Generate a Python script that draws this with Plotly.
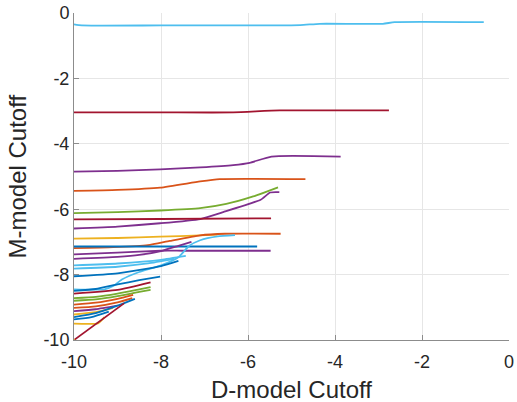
import plotly.graph_objects as go

BLUE = "#0072BD"; ORANGE = "#D95319"; YELLOW = "#EDB120"; PURPLE = "#7E2F8E"
GREEN = "#77AC30"; LBLUE = "#4DBEEE"; DRED = "#A2142F"

# Each series: (color, x values, y values)
s01_x = [-10, -9.82, -8, -6, -4.8, -4.35, -2.9, -2.63, -0.58]
s01_y = [-0.35, -0.38, -0.38, -0.38, -0.37, -0.33, -0.33, -0.28, -0.28]
s02_x = [-10, -8, -6.34, -5.27, -2.76]
s02_y = [-3.04, -3.04, -3.04, -2.98, -2.98]
s03_x = [-10, -9, -8.02, -7.1, -6.34, -5.96, -5.46, -3.87]
s03_y = [-4.85, -4.83, -4.78, -4.72, -4.65, -4.58, -4.39, -4.39]
s04_x = [-10, -9, -8.02, -7.1, -6.65, -4.68]
s04_y = [-5.44, -5.41, -5.34, -5.15, -5.08, -5.08]
s05_x = [-10, -9, -8.02, -7.1, -6.5, -5.88, -5.31]
s05_y = [-6.12, -6.09, -6.04, -5.97, -5.84, -5.61, -5.33]
s06_x = [-10, -9, -8.02, -7.1, -6.57, -5.71, -5.49, -5.28]
s06_y = [-6.59, -6.53, -6.43, -6.3, -6.09, -5.71, -5.49, -5.48]
s07_x = [-10, -8, -5.47]
s07_y = [-6.31, -6.3, -6.28]
s08_x = [-10, -9, -8.02, -7.1, -6.7]
s08_y = [-6.9, -6.88, -6.84, -6.8, -6.78]
s09_x = [-10, -9.1, -8.3, -7.8, -7.1, -6.53, -5.25]
s09_y = [-7.19, -7.16, -7.1, -6.97, -6.8, -6.75, -6.75]
s10_x = [-10, -8, -5.79]
s10_y = [-7.14, -7.14, -7.14]
s11_x = [-10, -9, -8, -7.5, -5.48]
s11_y = [-7.38, -7.33, -7.27, -7.27, -7.27]
s12_x = [-10, -9, -8.5, -8, -7.6, -7.3]
s12_y = [-7.52, -7.46, -7.4, -7.28, -7.12, -7.0]
s13_x = [-10, -9, -8, -7.43]
s13_y = [-7.72, -7.66, -7.55, -7.43]
s14_x = [-10, -9, -8.3, -7.7]
s14_y = [-7.82, -7.76, -7.66, -7.52]
s15_x = [-10, -9.3, -9.1, -8.9, -8.5, -8.0, -7.6, -7.35, -7.1, -6.7, -6.3]
s15_y = [-8.45, -8.45, -8.35, -8.15, -7.92, -7.72, -7.47, -7.12, -6.95, -6.83, -6.79]
s16_x = [-10, -9, -8, -7.6]
s16_y = [-8.05, -7.96, -7.74, -7.58]
s17_x = [-10, -9.5, -9, -8.5, -8.02]
s17_y = [-8.5, -8.44, -8.3, -8.17, -8.06]
s18_x = [-10, -9, -8.24]
s18_y = [-8.58, -8.47, -8.24]
s19_x = [-10, -9.5, -9, -8.5, -8.24]
s19_y = [-8.72, -8.68, -8.58, -8.45, -8.38]
s20_x = [-10, -9.5, -9, -8.5, -8.24]
s20_y = [-8.8, -8.76, -8.66, -8.53, -8.47]
s21_x = [-10, -9.5, -9, -8.64]
s21_y = [-8.92, -8.86, -8.74, -8.62]
s22_x = [-10, -9.5, -9, -8.66]
s22_y = [-9.02, -8.97, -8.85, -8.72]
s23_x = [-10, -9.5, -9.0]
s23_y = [-9.12, -9.06, -8.95]
s24_x = [-10, -9.5, -9.1]
s24_y = [-9.22, -9.15, -9.02]
s25_x = [-10, -9.5, -9.0, -8.6]
s25_y = [-9.3, -9.18, -8.95, -8.74]
s26_x = [-10, -9.6, -9.2]
s26_y = [-9.37, -9.3, -9.13]
s27_x = [-10, -9.45, -9.3]
s27_y = [-9.5, -9.49, -9.3]
s28_x = [-10, -8.85]
s28_y = [-10, -8.88]
s29_x = [-10, -9.98]
s29_y = [-10, -9.98]

series = [
    (LBLUE, s01_x, s01_y), (DRED, s02_x, s02_y), (PURPLE, s03_x, s03_y),
    (ORANGE, s04_x, s04_y), (GREEN, s05_x, s05_y), (PURPLE, s06_x, s06_y),
    (DRED, s07_x, s07_y), (YELLOW, s08_x, s08_y), (ORANGE, s09_x, s09_y),
    (BLUE, s10_x, s10_y), (PURPLE, s11_x, s11_y), (PURPLE, s12_x, s12_y),
    (LBLUE, s13_x, s13_y), (LBLUE, s14_x, s14_y), (LBLUE, s15_x, s15_y),
    (BLUE, s16_x, s16_y), (BLUE, s17_x, s17_y), (DRED, s18_x, s18_y),
    (GREEN, s19_x, s19_y), (GREEN, s20_x, s20_y), (ORANGE, s21_x, s21_y),
    (ORANGE, s22_x, s22_y), (PURPLE, s23_x, s23_y), (YELLOW, s24_x, s24_y),
    (BLUE, s25_x, s25_y), (BLUE, s26_x, s26_y), (YELLOW, s27_x, s27_y),
    (DRED, s28_x, s28_y), (YELLOW, s29_x, s29_y),
]

x_ticks = [-10, -8, -6, -4, -2, 0]
y_ticks = [-10, -8, -6, -4, -2, 0]
x_title = "D-model Cutoff"
y_title = "M-model Cutoff"

fig = go.Figure()
for color, xs, ys in series:
    fig.add_trace(go.Scatter(x=xs, y=ys, mode="lines",
                             line=dict(color=color, width=1.8, shape="spline", smoothing=0.5),
                             showlegend=False, hoverinfo="skip"))

FONT = "Liberation Sans, Arial"
axis_common = dict(
    showgrid=True, gridcolor="#e6e6e6", gridwidth=1,
    zeroline=False, showline=True, linecolor="#8c8c8c", linewidth=1,
    ticks="inside", ticklen=5, tickcolor="#8c8c8c",
    tickfont=dict(family=FONT, size=18, color="#262626"),
    range=[-10, 0], mirror=False, automargin=False,
    ticklabeloverflow="allow",
)

fig.update_layout(
    width=517, height=402,
    margin=dict(l=74, r=8, t=13, b=62),
    paper_bgcolor="white", plot_bgcolor="white",
    xaxis=dict(**axis_common, tickvals=x_ticks, ticktext=[str(v) for v in x_ticks],
               ticklabelstandoff=5),
    yaxis=dict(**axis_common, tickvals=y_ticks, ticktext=[str(v) for v in y_ticks]),
    annotations=[
        dict(text=x_title, xref="paper", yref="paper", x=0.5, y=-0.105,
             xanchor="center", yanchor="top", showarrow=False,
             font=dict(family=FONT, size=24, color="#262626")),
        dict(text=y_title, xref="paper", yref="paper", x=-0.131, y=0.5,
             xanchor="center", yanchor="middle", textangle=-90, showarrow=False,
             font=dict(family=FONT, size=24, color="#262626")),
    ],
)

fig.write_html("out.html", config={"displayModeBar": False},
               post_script="document.body.style.margin='0px';")
